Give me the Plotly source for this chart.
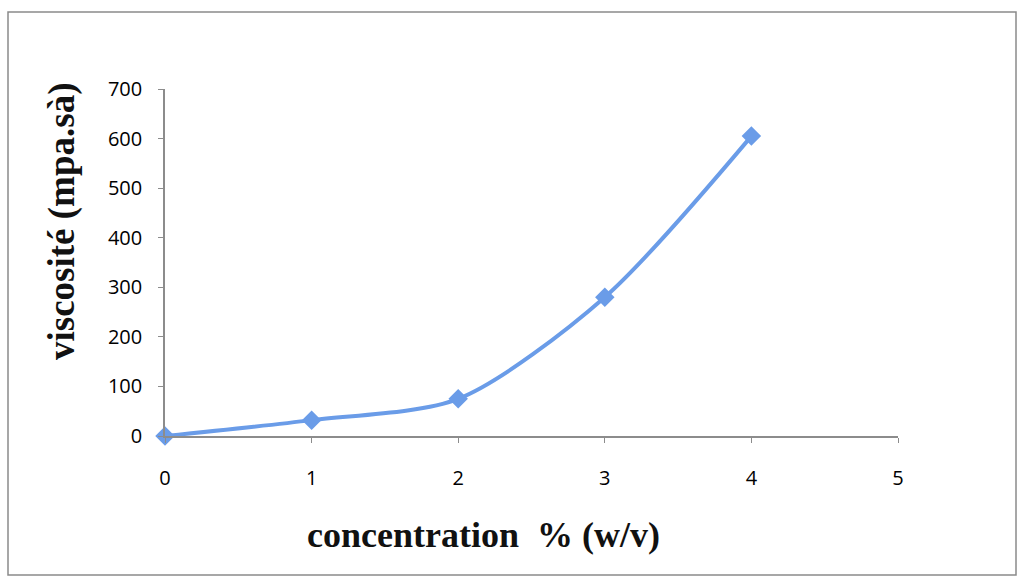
import plotly.graph_objects as go

concentration = [0, 1, 2, 3, 4]
viscosity = [0, 32, 75, 280, 605]
x_ticks = [0, 1, 2, 3, 4, 5]
y_ticks = [0, 100, 200, 300, 400, 500, 600, 700]

W, H = 1017, 580
L, R, T, B = 165, 119, 89, 144
pw, ph = W - L - R, H - T - B

fig = go.Figure()
fig.add_trace(go.Scatter(
    x=concentration, y=viscosity, mode="lines+markers",
    line=dict(color="#6a9ce8", width=4, shape="spline", smoothing=0.8),
    marker=dict(symbol="diamond", size=15, color="#6a9ce8"),
    cliponaxis=False,
    showlegend=False,
))

def px(xp):
    return (xp - L) / pw

def py(yp):
    return (H - B - yp) / ph

fig.add_shape(type="rect", xref="paper", yref="paper",
              x0=px(8), x1=px(1016), y0=py(12), y1=py(575),
              line=dict(color="#8a8a8a", width=1.5), layer="below")

fig.add_annotation(text="<b>concentration  % (w/v)</b>", xref="paper", yref="paper",
                   x=px(483), y=py(535), showarrow=False,
                   xanchor="center", yanchor="middle",
                   font=dict(family="Liberation Serif", size=36, color="#111"))
fig.add_annotation(text="<b>viscosité (mpa.sà)</b>", xref="paper", yref="paper",
                   x=px(62), y=py(222), showarrow=False, textangle=-90,
                   xanchor="center", yanchor="middle",
                   font=dict(family="Liberation Serif", size=37, color="#111"))

fig.update_layout(
    width=W, height=H,
    margin=dict(l=L, r=R, t=T, b=B),
    paper_bgcolor="white", plot_bgcolor="white",
    xaxis=dict(range=[0, 5], tickvals=x_ticks, showgrid=False, zeroline=False,
               showline=True, linecolor="#8c8c8c", linewidth=1.5,
               ticks="outside", ticklen=5, tickcolor="#8c8c8c",
               tickfont=dict(family="Open Sans", size=20, color="black"),
               ticklabelstandoff=18),
    yaxis=dict(range=[0, 700], tickvals=y_ticks, showgrid=False, zeroline=False,
               showline=True, linecolor="#8c8c8c", linewidth=1.5,
               ticks="outside", ticklen=5, tickcolor="#8c8c8c",
               tickfont=dict(family="Open Sans", size=20, color="black"),
               ticklabelstandoff=12),
)

fig.write_html("out.html")
